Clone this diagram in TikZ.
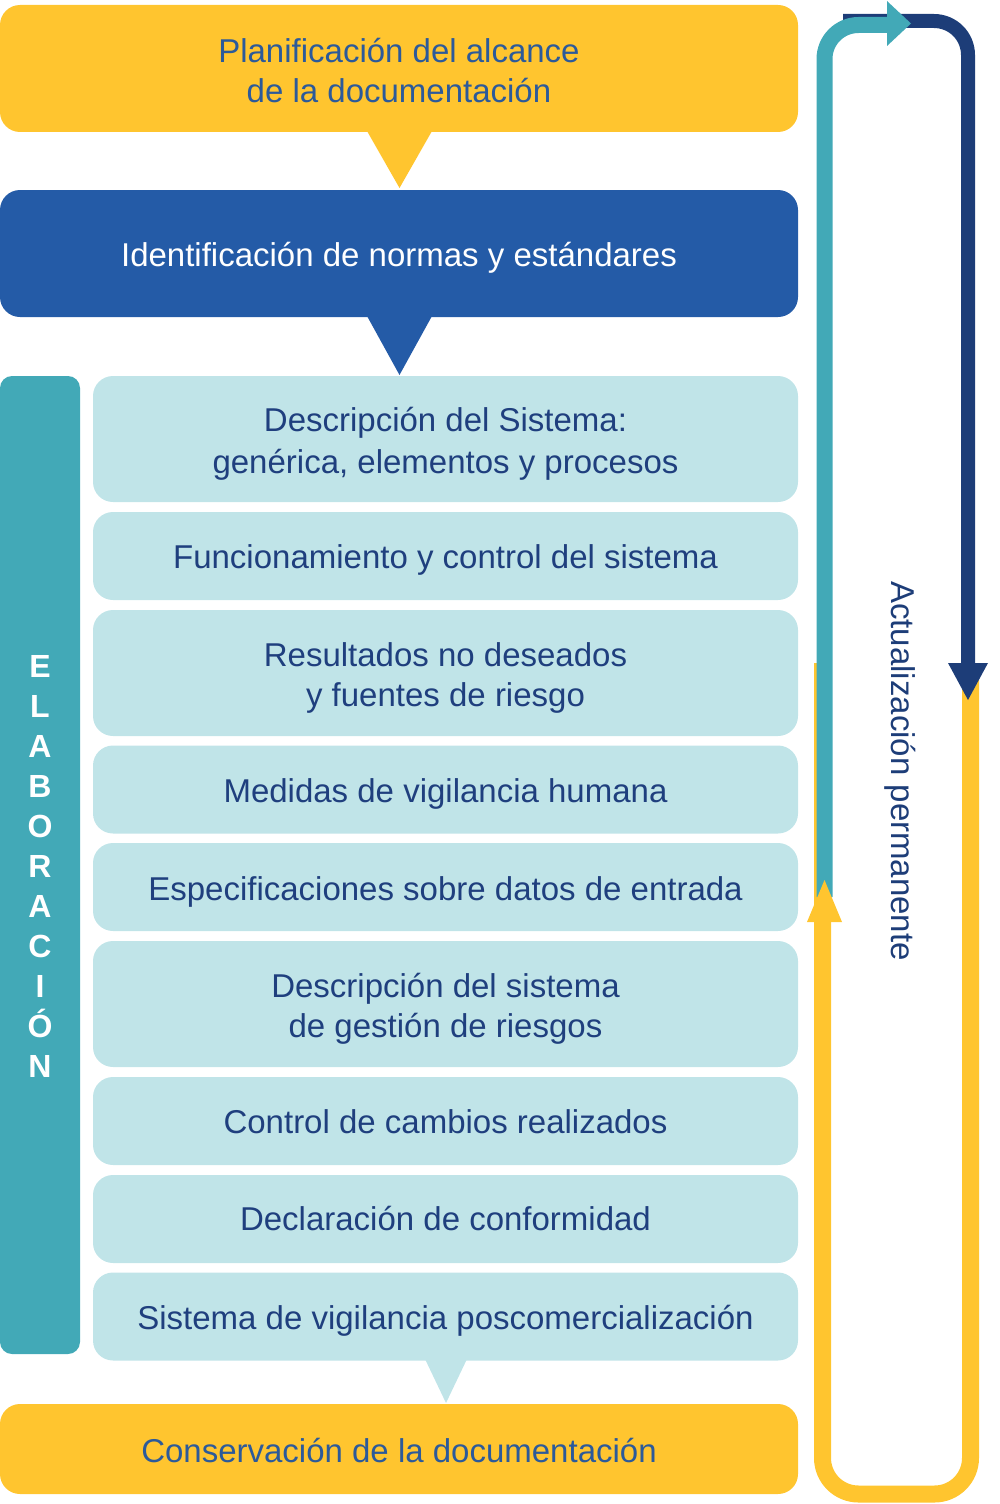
\documentclass[tikz,border=0pt]{standalone}
\usepackage{fontspec}
\setmainfont{Liberation Sans}
\definecolor{cYel}{HTML}{FFC52F}
\definecolor{cBlue}{HTML}{245BA7}
\definecolor{cLight}{HTML}{C0E4E8}
\definecolor{cTeal}{HTML}{42A9B7}
\definecolor{cNavy}{HTML}{1D3D78}
\definecolor{cTxt}{HTML}{1F3F7E}
\definecolor{cTxtY}{HTML}{2C5A9A}
% strut that fixes the baseline offset: #1 = baseline offset below centre (pt)
\newcommand\ys[1]{\rule[\dimexpr#1pt-10pt\relax]{0pt}{20pt}}
\tikzset{
  box/.style={rectangle, rounded corners=10pt, inner sep=0pt, align=center,
    font=\fontsize{16.5pt}{20pt}\selectfont},
  bigbox/.style={box, minimum width=399pt},
  lightbox/.style={box, fill=cLight, text=cTxt, minimum width=352.5pt},
  tall/.style={minimum height=63pt},
  short/.style={minimum height=44pt},
}
\begin{document}
\begin{tikzpicture}[x=0.5pt,y=-0.5pt]
\useasboundingbox (0,0) rectangle (1000,1504);
% top boxes
\node[bigbox, fill=cYel, text=cTxtY, minimum height=63.5pt] (plan) at (399,68.5)
  {\ys{7.1}Planificación del alcance\\\ys{7.1}de la documentación};
\fill[cYel] (367,131) -- (432,131) -- (399.5,188) -- cycle;
\node[bigbox, fill=cBlue, text=white, minimum height=63.5pt] (ident) at (399,253.5)
  {\ys{6.6}Identificación de normas y estándares};
\fill[cBlue] (367,316) -- (432,316) -- (399.5,375) -- cycle;
% elaboracion bar
\node[rectangle, rounded corners=6pt, fill=cTeal, minimum width=40pt, minimum height=489pt] (elab) at (40,865) {};
\node[align=center, text=white, font=\bfseries\fontsize{16pt}{20pt}\selectfont] (elabtxt) at (40,866)
  {E\\L\\A\\B\\O\\R\\A\\C\\I\\Ó\\N};
% light boxes
\node[lightbox, tall]  (b1) at (445.5,439)    {\ys{6.9}Descripción del Sistema:\\\ys{6.9}genérica, elementos y procesos};
\node[lightbox, short] (b2) at (445.5,556)    {\ys{6.4}Funcionamiento y control del sistema};
\node[lightbox, tall]  (b3) at (445.5,673)    {\ys{7}Resultados no deseados\\\ys{7}y fuentes de riesgo};
\node[lightbox, short] (b4) at (445.5,789.5)  {\ys{6.6}Medidas de vigilancia humana};
\node[lightbox, short] (b5) at (445.5,887)    {\ys{6.7}Especificaciones sobre datos de entrada};
\node[lightbox, tall]  (b6) at (445.5,1004)   {\ys{6.5}Descripción del sistema\\\ys{6.5}de gestión de riesgos};
\node[lightbox, short] (b7) at (445.5,1121)   {\ys{6.3}Control de cambios realizados};
\node[lightbox, short] (b8) at (445.5,1219)   {\ys{5.7}Declaración de conformidad};
\node[lightbox, short] (b9) at (445.5,1316.5) {\ys{6.4}Sistema de vigilancia poscomercialización};
\fill[cLight] (425,1359) -- (467,1359) -- (446,1403) -- cycle;
% bottom box
\node[bigbox, fill=cYel, text=cTxtY, minimum height=45pt] (cons) at (399,1449)
  {\ys{6.5}Conservación de la documentación};
% loop
\coordinate (ya) at (970.5,665);
\coordinate (yb) at (970.5,1494);
\coordinate (yc) at (822.5,1494);
\coordinate (yd) at (822.5,663);
\draw[cYel, line width=8.5pt, rounded corners=18pt] (ya) -- (yb) -- (yc) -- (yd);
\coordinate (na) at (843,21);
\coordinate (nb) at (968,21);
\coordinate (nc) at (968,665);
\draw[cNavy, line width=7pt, rounded corners=17pt] (na) -- (nb) -- (nc);
\fill[cNavy] (948,663) -- (988,663) -- (968,700) -- cycle;
\coordinate (ta) at (824.5,897);
\coordinate (tb) at (824.5,25);
\coordinate (tc) at (890,25);
\draw[cTeal, line width=8pt, rounded corners=17pt] (ta) -- (tb) -- (tc);
\fill[cTeal] (887,1) -- (887,46) -- (911,23.5) -- cycle;
\fill[cYel] (807,922) -- (842,922) -- (824.5,880) -- cycle;
\node[rotate=-90, text=cNavy, font=\fontsize{16.5pt}{20pt}\selectfont] (act) at (900,771) {Actualización permanente};
\end{tikzpicture}
\end{document}
